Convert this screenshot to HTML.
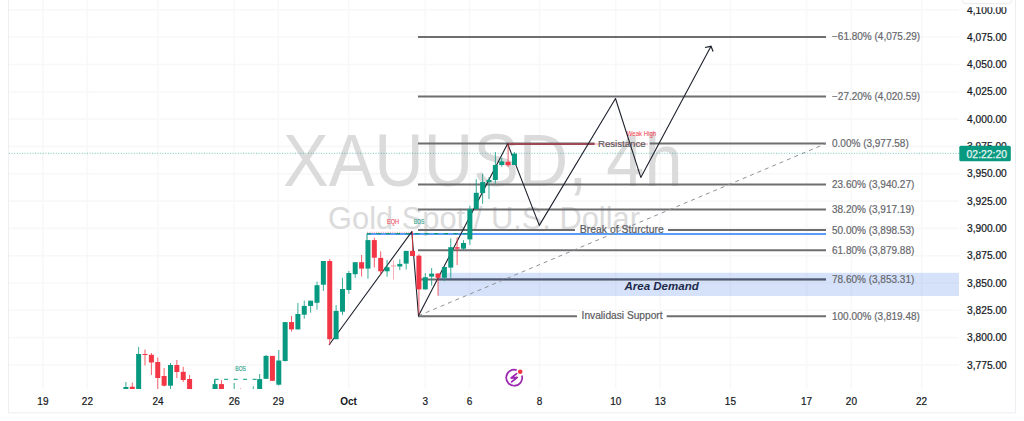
<!DOCTYPE html>
<html><head><meta charset="utf-8"><style>
html,body{margin:0;padding:0;background:#fff;width:1024px;height:421px;overflow:hidden}
svg{display:block;font-family:"Liberation Sans",sans-serif}
</style></head><body>
<svg width="1024" height="421" viewBox="0 0 1024 421">
<rect width="1024" height="421" fill="#fff"/>
<defs><clipPath id="pane"><rect x="9" y="0" width="950" height="389"/></clipPath>
<clipPath id="axis"><rect x="959" y="7.2" width="56" height="406"/></clipPath></defs>
<g id="grid">
<line x1="9" y1="9.9" x2="959" y2="9.9" stroke="#f8f8f8" stroke-width="1.6"/>
<line x1="9" y1="37.2" x2="959" y2="37.2" stroke="#f8f8f8" stroke-width="1.6"/>
<line x1="9" y1="64.5" x2="959" y2="64.5" stroke="#f8f8f8" stroke-width="1.6"/>
<line x1="9" y1="91.8" x2="959" y2="91.8" stroke="#f8f8f8" stroke-width="1.6"/>
<line x1="9" y1="119.1" x2="959" y2="119.1" stroke="#f8f8f8" stroke-width="1.6"/>
<line x1="9" y1="146.4" x2="959" y2="146.4" stroke="#f8f8f8" stroke-width="1.6"/>
<line x1="9" y1="173.7" x2="959" y2="173.7" stroke="#f8f8f8" stroke-width="1.6"/>
<line x1="9" y1="201.1" x2="959" y2="201.1" stroke="#f8f8f8" stroke-width="1.6"/>
<line x1="9" y1="228.4" x2="959" y2="228.4" stroke="#f8f8f8" stroke-width="1.6"/>
<line x1="9" y1="255.7" x2="959" y2="255.7" stroke="#f8f8f8" stroke-width="1.6"/>
<line x1="9" y1="283.0" x2="959" y2="283.0" stroke="#f8f8f8" stroke-width="1.6"/>
<line x1="9" y1="310.3" x2="959" y2="310.3" stroke="#f8f8f8" stroke-width="1.6"/>
<line x1="9" y1="337.6" x2="959" y2="337.6" stroke="#f8f8f8" stroke-width="1.6"/>
<line x1="9" y1="364.9" x2="959" y2="364.9" stroke="#f8f8f8" stroke-width="1.6"/>
<line x1="42.9" y1="0" x2="42.9" y2="389" stroke="#f8f8f8" stroke-width="1.6"/>
<line x1="87.4" y1="0" x2="87.4" y2="389" stroke="#f8f8f8" stroke-width="1.6"/>
<line x1="158" y1="0" x2="158" y2="389" stroke="#f8f8f8" stroke-width="1.6"/>
<line x1="234.2" y1="0" x2="234.2" y2="389" stroke="#f8f8f8" stroke-width="1.6"/>
<line x1="278.4" y1="0" x2="278.4" y2="389" stroke="#f8f8f8" stroke-width="1.6"/>
<line x1="348.6" y1="0" x2="348.6" y2="389" stroke="#f8f8f8" stroke-width="1.6"/>
<line x1="425.3" y1="0" x2="425.3" y2="389" stroke="#f8f8f8" stroke-width="1.6"/>
<line x1="469.5" y1="0" x2="469.5" y2="389" stroke="#f8f8f8" stroke-width="1.6"/>
<line x1="539.5" y1="0" x2="539.5" y2="389" stroke="#f8f8f8" stroke-width="1.6"/>
<line x1="615.7" y1="0" x2="615.7" y2="389" stroke="#f8f8f8" stroke-width="1.6"/>
<line x1="660.2" y1="0" x2="660.2" y2="389" stroke="#f8f8f8" stroke-width="1.6"/>
<line x1="730.4" y1="0" x2="730.4" y2="389" stroke="#f8f8f8" stroke-width="1.6"/>
<line x1="806.6" y1="0" x2="806.6" y2="389" stroke="#f8f8f8" stroke-width="1.6"/>
<line x1="851.4" y1="0" x2="851.4" y2="389" stroke="#f8f8f8" stroke-width="1.6"/>
<line x1="921.6" y1="0" x2="921.6" y2="389" stroke="#f8f8f8" stroke-width="1.6"/>
</g>
<g id="wm" fill="#dbdbdc">
<text x="283" y="185.7" font-size="73.2" textLength="399.5" lengthAdjust="spacingAndGlyphs">XAUUSD, 4h</text>
<text x="328" y="228.8" font-size="30.5" textLength="312" lengthAdjust="spacingAndGlyphs">Gold Spot / U.S. Dollar</text>
</g>
<g clip-path="url(#pane)">
<!-- area demand box -->
<rect x="438" y="272.8" width="521" height="23.2" fill="#2f6fe6" fill-opacity="0.2"/>
<line x1="418" y1="36.9" x2="826" y2="36.9" stroke="#6e6e70" stroke-width="2"/>
<line x1="418" y1="96.6" x2="826" y2="96.6" stroke="#6e6e70" stroke-width="2"/>
<line x1="418" y1="143.6" x2="594.6" y2="143.6" stroke="#6e6e70" stroke-width="2"/>
<line x1="649.7" y1="143.6" x2="826" y2="143.6" stroke="#6e6e70" stroke-width="2"/>
<line x1="418" y1="184.4" x2="826" y2="184.4" stroke="#6e6e70" stroke-width="2"/>
<line x1="418" y1="209.6" x2="826" y2="209.6" stroke="#6e6e70" stroke-width="2"/>
<line x1="418" y1="230.0" x2="575" y2="230.0" stroke="#6e6e70" stroke-width="2"/>
<line x1="668" y1="230.0" x2="826" y2="230.0" stroke="#6e6e70" stroke-width="2"/>
<line x1="418" y1="250.3" x2="826" y2="250.3" stroke="#6e6e70" stroke-width="2"/>
<line x1="418" y1="279.4" x2="826" y2="279.4" stroke="#6e6e70" stroke-width="2"/>
<line x1="418" y1="316.3" x2="577" y2="316.3" stroke="#6e6e70" stroke-width="2"/>
<line x1="666.7" y1="316.3" x2="826" y2="316.3" stroke="#6e6e70" stroke-width="2"/>
<line x1="438" y1="279.4" x2="826" y2="279.4" stroke="#4d5876" stroke-width="1.8"/>
<line x1="367" y1="234" x2="826" y2="234" stroke="#5b9cf6" stroke-width="2"/>
<line x1="367" y1="232.3" x2="411" y2="232.3" stroke="#f26b77" stroke-width="1" stroke-dasharray="1 1.3" stroke-opacity="0.7"/>
<line x1="367" y1="233.6" x2="468" y2="233.7" stroke="#089981" stroke-width="1.2" stroke-dasharray="4.2 5.4"/>
<line x1="367" y1="233.6" x2="367" y2="240" stroke="#089981" stroke-width="1"/>
<line x1="214.6" y1="379.3" x2="258" y2="379.3" stroke="#089981" stroke-width="1" stroke-dasharray="4 5.5"/>
<line x1="214.6" y1="379.3" x2="214.6" y2="384" stroke="#089981" stroke-width="1"/>
<text x="235.3" y="371" font-size="6.5" fill="#2fa38c" stroke="#2fa38c" stroke-width="0.15" textLength="10.7" lengthAdjust="spacingAndGlyphs">BOS</text>
<text x="387" y="224" font-size="6.5" fill="#f0505e" stroke="#f0505e" stroke-width="0.15" textLength="12" lengthAdjust="spacingAndGlyphs">EQH</text>
<text x="413.8" y="224" font-size="6.5" fill="#2fa38c" stroke="#2fa38c" stroke-width="0.15" textLength="10.5" lengthAdjust="spacingAndGlyphs">BOS</text>
<line x1="508" y1="144" x2="594.6" y2="144" stroke="#9b4a55" stroke-width="2"/>
<line x1="594.6" y1="144" x2="648" y2="144" stroke="#f5a0a8" stroke-width="1"/>
<text x="626.8" y="136" font-size="6.8" fill="#f23645" textLength="29.3" lengthAdjust="spacingAndGlyphs">Weak High</text>
<line x1="418.5" y1="315.8" x2="826" y2="143.5" stroke="#8f9198" stroke-width="1" stroke-dasharray="4 4"/>
<polyline points="329,345 411.8,231.6 418.5,315.8 507.6,143.8 539.3,225.4 615.5,98.5 640.8,177.4 711,46.3" fill="none" stroke="#1e222d" stroke-width="1.1" stroke-linejoin="round"/>
<polyline points="705,47.5 711,46.3 713.1,51.4" fill="none" stroke="#1e222d" stroke-width="1.2"/>
<line x1="125.90" y1="382" x2="125.90" y2="393" stroke="#089981" stroke-width="1" stroke-opacity="0.8"/>
<rect x="123.40" y="387" width="5.0" height="6.00" fill="#089981"/>
<line x1="132.27" y1="382.7" x2="132.27" y2="393" stroke="#f23645" stroke-width="1" stroke-opacity="0.8"/>
<rect x="129.77" y="386.7" width="5.0" height="6.30" fill="#f23645"/>
<line x1="138.64" y1="347" x2="138.64" y2="393" stroke="#089981" stroke-width="1" stroke-opacity="0.8"/>
<rect x="136.14" y="354" width="5.0" height="39.00" fill="#089981"/>
<line x1="145.01" y1="349.5" x2="145.01" y2="365.5" stroke="#f23645" stroke-width="1" stroke-opacity="0.8"/>
<rect x="142.51" y="354" width="5.0" height="1.00" fill="#f23645"/>
<line x1="151.38" y1="353" x2="151.38" y2="375" stroke="#f23645" stroke-width="1" stroke-opacity="0.8"/>
<rect x="148.88" y="354.8" width="5.0" height="7.70" fill="#f23645"/>
<line x1="157.75" y1="357.6" x2="157.75" y2="393" stroke="#f23645" stroke-width="1" stroke-opacity="0.8"/>
<rect x="155.25" y="362" width="5.0" height="16.00" fill="#f23645"/>
<line x1="164.12" y1="368" x2="164.12" y2="386.5" stroke="#f23645" stroke-width="1" stroke-opacity="0.8"/>
<rect x="161.62" y="376" width="5.0" height="9.70" fill="#f23645"/>
<line x1="170.49" y1="363" x2="170.49" y2="393" stroke="#089981" stroke-width="1" stroke-opacity="0.8"/>
<rect x="167.99" y="365" width="5.0" height="20.70" fill="#089981"/>
<line x1="176.86" y1="360" x2="176.86" y2="378" stroke="#f23645" stroke-width="1" stroke-opacity="0.8"/>
<rect x="174.36" y="365" width="5.0" height="7.00" fill="#f23645"/>
<line x1="183.23" y1="366.8" x2="183.23" y2="382" stroke="#f23645" stroke-width="1" stroke-opacity="0.8"/>
<rect x="180.73" y="371.8" width="5.0" height="8.20" fill="#f23645"/>
<line x1="189.60" y1="375" x2="189.60" y2="393" stroke="#f23645" stroke-width="1" stroke-opacity="0.8"/>
<rect x="187.10" y="379" width="5.0" height="14.00" fill="#f23645"/>
<line x1="215.08" y1="380" x2="215.08" y2="393" stroke="#089981" stroke-width="1" stroke-opacity="0.8"/>
<rect x="212.58" y="384.1" width="5.0" height="8.90" fill="#089981"/>
<line x1="221.45" y1="380.2" x2="221.45" y2="393" stroke="#f23645" stroke-width="1" stroke-opacity="0.8"/>
<rect x="218.95" y="384.1" width="5.0" height="8.90" fill="#f23645"/>
<line x1="234.19" y1="383" x2="234.19" y2="393" stroke="#089981" stroke-width="1" stroke-opacity="0.8"/>
<rect x="231.69" y="392" width="5.0" height="1.00" fill="#089981"/>
<line x1="240.56" y1="388.4" x2="240.56" y2="393" stroke="#f23645" stroke-width="1" stroke-opacity="0.8"/>
<rect x="238.06" y="392" width="5.0" height="1.00" fill="#f23645"/>
<line x1="253.30" y1="386.2" x2="253.30" y2="393" stroke="#089981" stroke-width="1" stroke-opacity="0.8"/>
<rect x="250.80" y="392" width="5.0" height="1.00" fill="#089981"/>
<line x1="259.67" y1="374" x2="259.67" y2="393" stroke="#089981" stroke-width="1" stroke-opacity="0.8"/>
<rect x="257.17" y="379.1" width="5.0" height="13.90" fill="#089981"/>
<line x1="266.04" y1="355" x2="266.04" y2="378.8" stroke="#089981" stroke-width="1" stroke-opacity="0.8"/>
<rect x="263.54" y="355.9" width="5.0" height="22.90" fill="#089981"/>
<line x1="272.41" y1="355.9" x2="272.41" y2="380.8" stroke="#f23645" stroke-width="1" stroke-opacity="0.8"/>
<rect x="269.91" y="355.9" width="5.0" height="24.90" fill="#f23645"/>
<line x1="278.78" y1="350" x2="278.78" y2="385.6" stroke="#089981" stroke-width="1" stroke-opacity="0.8"/>
<rect x="276.28" y="360.5" width="5.0" height="24.20" fill="#089981"/>
<line x1="285.15" y1="322.1" x2="285.15" y2="361.5" stroke="#089981" stroke-width="1" stroke-opacity="0.8"/>
<rect x="282.65" y="322.1" width="5.0" height="38.90" fill="#089981"/>
<line x1="291.52" y1="316" x2="291.52" y2="331.6" stroke="#f23645" stroke-width="1" stroke-opacity="0.8"/>
<rect x="289.02" y="322.1" width="5.0" height="7.30" fill="#f23645"/>
<line x1="297.89" y1="303" x2="297.89" y2="329.4" stroke="#089981" stroke-width="1" stroke-opacity="0.8"/>
<rect x="295.39" y="314" width="5.0" height="15.40" fill="#089981"/>
<line x1="304.26" y1="300.5" x2="304.26" y2="318.7" stroke="#089981" stroke-width="1" stroke-opacity="0.8"/>
<rect x="301.76" y="305.9" width="5.0" height="8.80" fill="#089981"/>
<line x1="310.63" y1="300.7" x2="310.63" y2="312.7" stroke="#089981" stroke-width="1" stroke-opacity="0.8"/>
<rect x="308.13" y="300.7" width="5.0" height="5.30" fill="#089981"/>
<line x1="317.00" y1="281.7" x2="317.00" y2="309.6" stroke="#089981" stroke-width="1" stroke-opacity="0.8"/>
<rect x="314.50" y="285.2" width="5.0" height="17.60" fill="#089981"/>
<line x1="323.37" y1="261" x2="323.37" y2="291" stroke="#089981" stroke-width="1" stroke-opacity="0.8"/>
<rect x="320.87" y="261" width="5.0" height="23.70" fill="#089981"/>
<line x1="329.74" y1="259" x2="329.74" y2="345" stroke="#f23645" stroke-width="1" stroke-opacity="0.8"/>
<rect x="327.24" y="261" width="5.0" height="78.20" fill="#f23645"/>
<line x1="336.11" y1="305" x2="336.11" y2="339.2" stroke="#089981" stroke-width="1" stroke-opacity="0.8"/>
<rect x="333.61" y="310.9" width="5.0" height="28.30" fill="#089981"/>
<line x1="342.48" y1="277.8" x2="342.48" y2="315" stroke="#089981" stroke-width="1" stroke-opacity="0.8"/>
<rect x="339.98" y="289" width="5.0" height="22.70" fill="#089981"/>
<line x1="348.85" y1="271" x2="348.85" y2="293.7" stroke="#089981" stroke-width="1" stroke-opacity="0.8"/>
<rect x="346.35" y="273" width="5.0" height="17.00" fill="#089981"/>
<line x1="355.22" y1="262.2" x2="355.22" y2="277.8" stroke="#089981" stroke-width="1" stroke-opacity="0.8"/>
<rect x="352.72" y="262.2" width="5.0" height="12.00" fill="#089981"/>
<line x1="361.59" y1="255" x2="361.59" y2="276.5" stroke="#f23645" stroke-width="1" stroke-opacity="0.8"/>
<rect x="359.09" y="262.2" width="5.0" height="6.40" fill="#f23645"/>
<line x1="367.96" y1="240.1" x2="367.96" y2="278.7" stroke="#089981" stroke-width="1" stroke-opacity="0.8"/>
<rect x="365.46" y="240.1" width="5.0" height="28.50" fill="#089981"/>
<line x1="374.33" y1="237.7" x2="374.33" y2="267.5" stroke="#f23645" stroke-width="1" stroke-opacity="0.8"/>
<rect x="371.83" y="240.1" width="5.0" height="17.60" fill="#f23645"/>
<line x1="380.70" y1="251.4" x2="380.70" y2="275.3" stroke="#f23645" stroke-width="1" stroke-opacity="0.8"/>
<rect x="378.20" y="257.9" width="5.0" height="13.40" fill="#f23645"/>
<line x1="387.07" y1="259.9" x2="387.07" y2="276.7" stroke="#089981" stroke-width="1" stroke-opacity="0.8"/>
<rect x="384.57" y="267.2" width="5.0" height="4.10" fill="#089981"/>
<line x1="393.44" y1="260.2" x2="393.44" y2="279.5" stroke="#f59aa2" stroke-width="1" stroke-opacity="0.8"/>
<rect x="390.94" y="265.4" width="5.0" height="1.00" fill="#f59aa2"/>
<line x1="399.81" y1="259.3" x2="399.81" y2="270.2" stroke="#089981" stroke-width="1" stroke-opacity="0.8"/>
<rect x="397.31" y="263.9" width="5.0" height="2.60" fill="#089981"/>
<line x1="406.18" y1="250.9" x2="406.18" y2="269.4" stroke="#089981" stroke-width="1" stroke-opacity="0.8"/>
<rect x="403.68" y="250.9" width="5.0" height="12.70" fill="#089981"/>
<line x1="412.55" y1="231.3" x2="412.55" y2="256" stroke="#f23645" stroke-width="1" stroke-opacity="0.8"/>
<rect x="410.05" y="250.9" width="5.0" height="5.10" fill="#f23645"/>
<line x1="418.92" y1="254.3" x2="418.92" y2="314.3" stroke="#f23645" stroke-width="1" stroke-opacity="0.8"/>
<rect x="416.42" y="255.7" width="5.0" height="33.70" fill="#f23645"/>
<line x1="425.29" y1="273.1" x2="425.29" y2="289.4" stroke="#089981" stroke-width="1" stroke-opacity="0.8"/>
<rect x="422.79" y="277.2" width="5.0" height="12.20" fill="#089981"/>
<line x1="431.66" y1="268" x2="431.66" y2="285.6" stroke="#089981" stroke-width="1" stroke-opacity="0.8"/>
<rect x="429.16" y="273.6" width="5.0" height="3.00" fill="#089981"/>
<line x1="438.03" y1="273.5" x2="438.03" y2="295.7" stroke="#f23645" stroke-width="1" stroke-opacity="0.8"/>
<rect x="435.53" y="273.5" width="5.0" height="4.30" fill="#f23645"/>
<line x1="444.40" y1="267" x2="444.40" y2="281.2" stroke="#089981" stroke-width="1" stroke-opacity="0.8"/>
<rect x="441.90" y="267" width="5.0" height="10.80" fill="#089981"/>
<line x1="450.77" y1="238.4" x2="450.77" y2="277.8" stroke="#089981" stroke-width="1" stroke-opacity="0.8"/>
<rect x="448.27" y="247.2" width="5.0" height="20.40" fill="#089981"/>
<line x1="457.14" y1="237.3" x2="457.14" y2="265" stroke="#f23645" stroke-width="1" stroke-opacity="0.8"/>
<rect x="454.64" y="247.2" width="5.0" height="1.50" fill="#f23645"/>
<line x1="463.51" y1="240.2" x2="463.51" y2="249.7" stroke="#089981" stroke-width="1" stroke-opacity="0.8"/>
<rect x="461.01" y="243" width="5.0" height="5.70" fill="#089981"/>
<line x1="469.88" y1="205.8" x2="469.88" y2="244.8" stroke="#089981" stroke-width="1" stroke-opacity="0.8"/>
<rect x="467.38" y="209" width="5.0" height="30.40" fill="#089981"/>
<line x1="476.25" y1="179.2" x2="476.25" y2="209" stroke="#089981" stroke-width="1" stroke-opacity="0.8"/>
<rect x="473.75" y="192.8" width="5.0" height="16.20" fill="#089981"/>
<line x1="482.62" y1="173.9" x2="482.62" y2="203.9" stroke="#089981" stroke-width="1" stroke-opacity="0.8"/>
<rect x="480.12" y="182.1" width="5.0" height="11.00" fill="#089981"/>
<line x1="488.99" y1="177.1" x2="488.99" y2="199" stroke="#089981" stroke-width="1" stroke-opacity="0.8"/>
<rect x="486.49" y="180" width="5.0" height="2.10" fill="#089981"/>
<line x1="495.36" y1="152.1" x2="495.36" y2="183.7" stroke="#089981" stroke-width="1" stroke-opacity="0.8"/>
<rect x="492.86" y="165" width="5.0" height="15.00" fill="#089981"/>
<line x1="501.73" y1="157.9" x2="501.73" y2="166.8" stroke="#089981" stroke-width="1" stroke-opacity="0.8"/>
<rect x="499.23" y="161.4" width="5.0" height="3.60" fill="#089981"/>
<line x1="508.10" y1="144.3" x2="508.10" y2="166.8" stroke="#f23645" stroke-width="1" stroke-opacity="0.8"/>
<rect x="505.60" y="161.8" width="5.0" height="3.40" fill="#f23645"/>
<line x1="514.47" y1="152.1" x2="514.47" y2="165" stroke="#089981" stroke-width="1" stroke-opacity="0.8"/>
<rect x="511.97" y="153.6" width="5.0" height="11.40" fill="#089981"/>
</g>
<g fill="#5a5a5e" stroke="#5a5a5e" stroke-width="0.2" font-size="10.4">
<text x="579.8" y="232.8" textLength="84" lengthAdjust="spacingAndGlyphs">Break of Sturcture</text>
<text x="581.6" y="319.2" textLength="81" lengthAdjust="spacingAndGlyphs">Invalidasi Support</text>
<text x="598" y="146.7" font-size="9.8" textLength="47.6" lengthAdjust="spacingAndGlyphs">Resistance</text>
</g>
<text x="624.4" y="289.9" font-size="11.4" font-weight="bold" font-style="italic" fill="#1e2a4a" textLength="74.4" lengthAdjust="spacingAndGlyphs">Area Demand</text>
<g fill="#66676c" stroke="#66676c" stroke-width="0.18" font-size="10"><text x="832" y="40.4">−61.80% (4,075.29)</text><text x="832" y="100.1">−27.20% (4,020.59)</text><text x="832" y="147.1">0.00% (3,977.58)</text><text x="832" y="187.9">23.60% (3,940.27)</text><text x="832" y="213.1">38.20% (3,917.19)</text><text x="832" y="233.5">50.00% (3,898.53)</text><text x="832" y="253.8">61.80% (3,879.88)</text><text x="832" y="282.9">78.60% (3,853.31)</text><text x="832" y="319.8">100.00% (3,819.48)</text></g>
<line x1="9" y1="153.3" x2="959" y2="153.3" stroke="#089981" stroke-width="1" stroke-dasharray="1 1.6" stroke-opacity="0.55"/>
<line x1="8.5" y1="0" x2="8.5" y2="413" stroke="#efeff1" stroke-width="1.2"/>
<line x1="8" y1="412.8" x2="1016" y2="412.8" stroke="#eceef1" stroke-width="1"/>
<line x1="1015.5" y1="0" x2="1015.5" y2="413" stroke="#eceef1" stroke-width="1"/>
<rect x="962.5" y="-6" width="49" height="9.7" rx="3" fill="#fff" stroke="#e8e9ec" stroke-width="1"/>
<g clip-path="url(#axis)" fill="#131722" font-size="10.2" stroke="#131722" stroke-width="0.22"><text x="1006.8" y="13.5" text-anchor="end" textLength="39.7" lengthAdjust="spacingAndGlyphs">4,100.00</text>
<text x="1006.8" y="40.8" text-anchor="end" textLength="39.7" lengthAdjust="spacingAndGlyphs">4,075.00</text>
<text x="1006.8" y="68.1" text-anchor="end" textLength="39.7" lengthAdjust="spacingAndGlyphs">4,050.00</text>
<text x="1006.8" y="95.4" text-anchor="end" textLength="39.7" lengthAdjust="spacingAndGlyphs">4,025.00</text>
<text x="1006.8" y="122.7" text-anchor="end" textLength="39.7" lengthAdjust="spacingAndGlyphs">4,000.00</text>
<text x="1006.8" y="150.0" text-anchor="end" textLength="39.7" lengthAdjust="spacingAndGlyphs">3,975.00</text>
<text x="1006.8" y="177.3" text-anchor="end" textLength="39.7" lengthAdjust="spacingAndGlyphs">3,950.00</text>
<text x="1006.8" y="204.7" text-anchor="end" textLength="39.7" lengthAdjust="spacingAndGlyphs">3,925.00</text>
<text x="1006.8" y="232.0" text-anchor="end" textLength="39.7" lengthAdjust="spacingAndGlyphs">3,900.00</text>
<text x="1006.8" y="259.3" text-anchor="end" textLength="39.7" lengthAdjust="spacingAndGlyphs">3,875.00</text>
<text x="1006.8" y="286.6" text-anchor="end" textLength="39.7" lengthAdjust="spacingAndGlyphs">3,850.00</text>
<text x="1006.8" y="313.9" text-anchor="end" textLength="39.7" lengthAdjust="spacingAndGlyphs">3,825.00</text>
<text x="1006.8" y="341.2" text-anchor="end" textLength="39.7" lengthAdjust="spacingAndGlyphs">3,800.00</text>
<text x="1006.8" y="368.5" text-anchor="end" textLength="39.7" lengthAdjust="spacingAndGlyphs">3,775.00</text></g>
<rect x="959.3" y="145.8" width="51.5" height="15.4" rx="1.5" fill="#089981"/>
<text x="966.6" y="157.8" font-size="10.4" fill="#e6f5f1" stroke="#e6f5f1" stroke-width="0.25" textLength="40.4" lengthAdjust="spacingAndGlyphs">02:22:20</text>
<g fill="#131722" font-size="10" stroke="#131722" stroke-width="0.2"><text x="42.9" y="405.1" text-anchor="middle">19</text>
<text x="87.4" y="405.1" text-anchor="middle">22</text>
<text x="158" y="405.1" text-anchor="middle">24</text>
<text x="234.2" y="405.1" text-anchor="middle">26</text>
<text x="278.4" y="405.1" text-anchor="middle">29</text>
<text x="348.6" y="405.1" text-anchor="middle" font-weight="bold" stroke-width="0">Oct</text>
<text x="425.3" y="405.1" text-anchor="middle">3</text>
<text x="469.5" y="405.1" text-anchor="middle">6</text>
<text x="539.5" y="405.1" text-anchor="middle">8</text>
<text x="615.7" y="405.1" text-anchor="middle">10</text>
<text x="660.2" y="405.1" text-anchor="middle">13</text>
<text x="730.4" y="405.1" text-anchor="middle">15</text>
<text x="806.6" y="405.1" text-anchor="middle">17</text>
<text x="851.4" y="405.1" text-anchor="middle">20</text>
<text x="921.6" y="405.1" text-anchor="middle">22</text></g>
<g transform="translate(514.2,377.75)"><path d="M 2.5 -7.6 A 8 8 0 1 0 7.65 -2.35" fill="none" stroke="#9c27b0" stroke-width="1.7"/><polyline points="2.4,-4.1 -3,0.3 2.9,-0.3 -2.6,4.1" fill="none" stroke="#9c27b0" stroke-width="1.8" stroke-linejoin="round" stroke-linecap="round"/><circle cx="6" cy="-5.95" r="2.3" fill="#f23645"/></g>
</svg>
</body></html>
